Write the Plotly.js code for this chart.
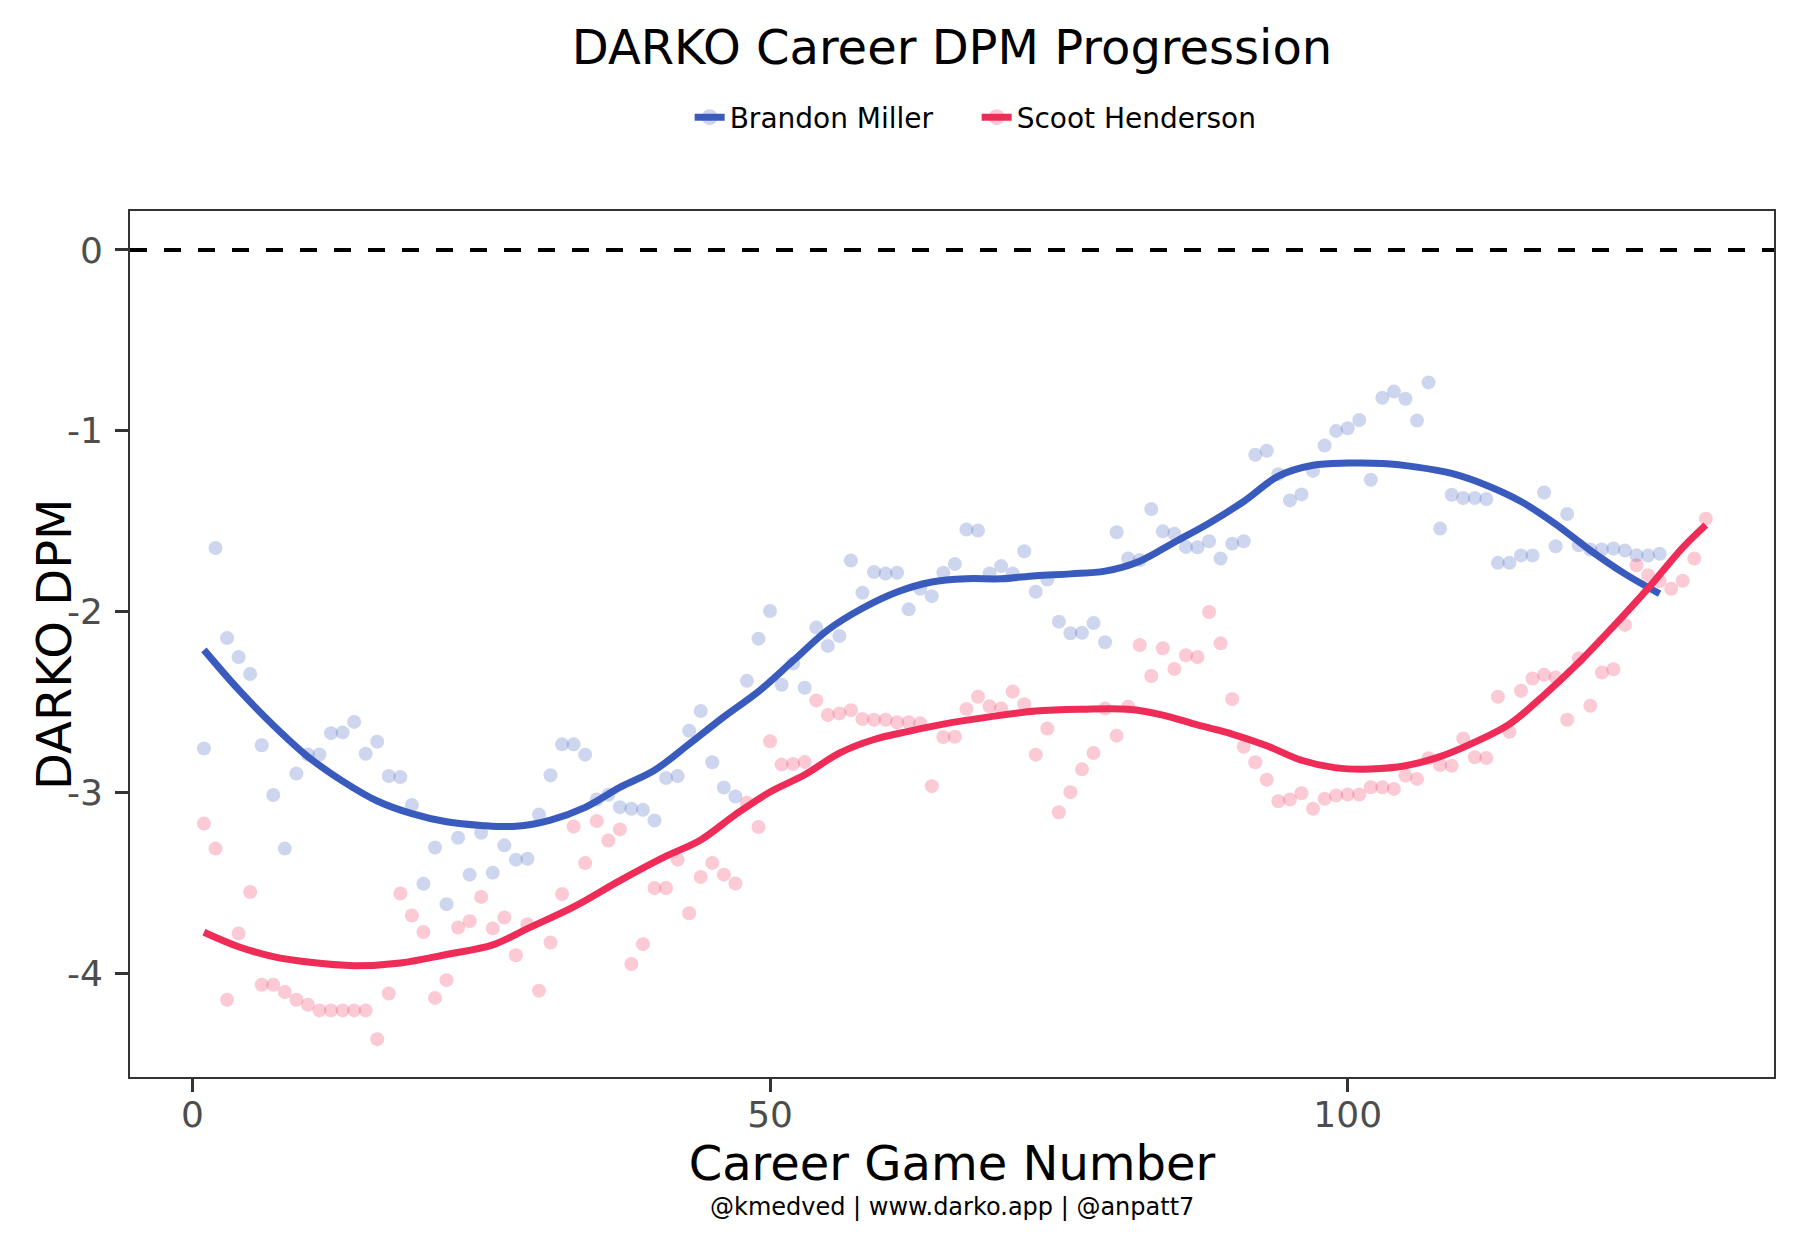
<!DOCTYPE html>
<html>
<head>
<meta charset="utf-8">
<script src="https://cdn.plot.ly/plotly-3.0.1.min.js"></script>
<style>
  html, body { margin: 0; padding: 0; background: #fff; }
  #chart { width: 1800px; height: 1240px; }
</style>
</head>
<body>
<div id="chart"></div>
<script>
// DARKO DPM per career game (game 1 .. n)
var millerDpm = [
  -2.755, -1.647, -2.145, -2.250, -2.343, -2.737, -3.012, -3.308, -2.893, -2.788,
  -2.788, -2.670, -2.666, -2.608, -2.784, -2.717, -2.907, -2.913, -3.067, -3.502,
  -3.302, -3.615, -3.248, -3.452, -3.221, -3.441, -3.290, -3.369, -3.364, -3.120,
  -2.903, -2.732, -2.732, -2.789, -3.037, -3.011, -3.079, -3.088, -3.094, -3.153,
  -2.918, -2.907, -2.657, -2.548, -2.831, -2.970, -3.020, -2.381, -2.148, -1.995,
  -2.403, -2.285, -2.419, -2.087, -2.188, -2.133, -1.716, -1.894, -1.780, -1.788,
  -1.784, -1.986, -1.872, -1.913, -1.784, -1.735, -1.545, -1.551, -1.788, -1.747,
  -1.788, -1.665, -1.889, -1.821, -2.054, -2.118, -2.115, -2.062, -2.168, -1.560,
  -1.705, -1.714, -1.432, -1.555, -1.568, -1.641, -1.643, -1.610, -1.705, -1.623,
  -1.610, -1.132, -1.110, -1.239, -1.384, -1.351, -1.221, -1.081, -1.000, -0.985,
  -0.940, -1.270, -0.817, -0.783, -0.822, -0.943, -0.732, -1.540, -1.353, -1.371,
  -1.371, -1.376, -1.729, -1.729, -1.688, -1.688, -1.340, -1.637, -1.459, -1.632,
  -1.655, -1.655, -1.650, -1.661, -1.687, -1.689, -1.679
];
var hendersonDpm = [
  -3.170, -3.308, -4.143, -3.777, -3.548, -4.060, -4.060, -4.100, -4.143, -4.171,
  -4.202, -4.202, -4.202, -4.202, -4.202, -4.361, -4.109, -3.556, -3.678, -3.769,
  -4.133, -4.035, -3.744, -3.709, -3.575, -3.749, -3.689, -3.897, -3.726, -4.093,
  -3.827, -3.559, -3.186, -3.388, -3.156, -3.263, -3.202, -3.946, -3.836, -3.526,
  -3.526, -3.369, -3.665, -3.465, -3.387, -3.452, -3.501, -3.055, -3.189, -2.715,
  -2.844, -2.840, -2.829, -2.489, -2.570, -2.561, -2.543, -2.592, -2.596, -2.596,
  -2.610, -2.610, -2.616, -2.963, -2.691, -2.690, -2.537, -2.469, -2.522, -2.534,
  -2.440, -2.510, -2.789, -2.644, -3.107, -2.996, -2.870, -2.780, -2.534, -2.684,
  -2.524, -2.183, -2.354, -2.201, -2.315, -2.240, -2.249, -2.001, -2.174, -2.482,
  -2.745, -2.831, -2.927, -3.046, -3.037, -3.002, -3.088, -3.033, -3.015, -3.009,
  -3.009, -2.969, -2.969, -2.978, -2.905, -2.923, -2.809, -2.846, -2.850, -2.699,
  -2.803, -2.807, -2.469, -2.662, -2.436, -2.368, -2.348, -2.363, -2.596, -2.258,
  -2.519, -2.335, -2.317, -2.072, -1.742, -1.797, -1.830, -1.872, -1.828, -1.705,
  -1.485
];

// smoothed trend lines
var millerTrendGame = [1, 4, 7, 10, 13, 16, 19, 22, 25, 28, 31, 34, 37, 40, 43, 46, 49, 52, 55, 58,
  61, 64, 67, 70, 73, 76, 79, 82, 85, 88, 91, 94, 97, 100, 103, 106, 109, 112, 115, 118, 121, 124, 127];
var millerTrend = [-2.21, -2.43, -2.626, -2.80, -2.935, -3.045, -3.115, -3.16, -3.18, -3.185, -3.15, -3.08,
  -2.97, -2.875, -2.73, -2.58, -2.44, -2.27, -2.10, -1.98, -1.89, -1.835, -1.817, -1.817, -1.80, -1.79,
  -1.775, -1.72, -1.615, -1.51, -1.39, -1.25, -1.19, -1.178, -1.18, -1.20, -1.235, -1.30, -1.39, -1.515,
  -1.66, -1.79, -1.90];
var hendersonTrendGame = [1, 4, 7, 10, 14, 18, 22, 26, 29, 33, 37, 41, 44, 47, 50, 53, 56, 59, 62, 65,
  69, 73, 77, 81, 84, 87, 90, 93, 96, 99, 102, 105, 108, 111, 114, 117, 120, 123, 126, 129, 131];
var hendersonTrend = [-3.77, -3.85, -3.905, -3.935, -3.955, -3.94, -3.893, -3.84, -3.75, -3.63, -3.485,
  -3.35, -3.26, -3.12, -2.995, -2.90, -2.78, -2.705, -2.66, -2.62, -2.58, -2.548, -2.538, -2.538, -2.57,
  -2.625, -2.675, -2.74, -2.82, -2.862, -2.868, -2.85, -2.80, -2.72, -2.62, -2.46, -2.28, -2.08, -1.87,
  -1.645, -1.52];

var xTickVals = [0, 50, 100];
var yTickVals = [0, -1, -2, -3, -4];
var yTickText = ["0", "-1", "-2", "-3", "-4"];

var blue = "#3a5bbe";
var red = "#ef2b58";
var blueFaint = "rgba(58,91,190,0.25)";
var redFaint = "rgba(239,43,88,0.25)";
var font = "DejaVu Sans, sans-serif";

function games(arr) {
  return arr.map(function (v, i) { return i + 1; });
}

var data = [
  { x: games(millerDpm), y: millerDpm, type: "scatter", mode: "markers", showlegend: false,
    marker: { size: 14, color: blueFaint } },
  { x: games(hendersonDpm), y: hendersonDpm, type: "scatter", mode: "markers", showlegend: false,
    marker: { size: 14, color: redFaint } },
  { x: millerTrendGame, y: millerTrend, type: "scatter", mode: "lines", showlegend: false,
    line: { color: blue, width: 7, shape: "spline", smoothing: 1 } },
  { x: hendersonTrendGame, y: hendersonTrend, type: "scatter", mode: "lines", showlegend: false,
    line: { color: red, width: 7, shape: "spline", smoothing: 1 } },
  // legend entries
  { x: [null], y: [null], type: "scatter", mode: "lines+markers", name: "Brandon Miller",
    line: { color: blue, width: 7 }, marker: { size: 16, color: blueFaint } },
  { x: [null], y: [null], type: "scatter", mode: "lines+markers", name: "Scoot Henderson",
    line: { color: red, width: 7 }, marker: { size: 16, color: redFaint } }
];

var layout = {
  width: 1800,
  height: 1240,
  margin: { l: 130, r: 26, t: 211, b: 163 },
  paper_bgcolor: "#fff",
  plot_bgcolor: "#fff",
  font: { family: font, color: "#000" },
  title: { text: "DARKO Career DPM Progression", font: { size: 48, color: "#000" },
    x: 0.5, xref: "paper", xanchor: "center", y: 0.962, yref: "container", yanchor: "middle" },
  legend: { orientation: "h", x: 0.515, xanchor: "center", y: 1.108, yanchor: "middle",
    font: { size: 28 }, itemwidth: 30, entrywidth: 242 },
  xaxis: {
    range: [-5.4, 136.9], showgrid: false, zeroline: false,
    showline: true, mirror: true, linecolor: "#333", linewidth: 2,
    ticks: "outside", ticklen: 13, tickwidth: 3, tickcolor: "#333",
    ticklabelstandoff: -8,
    tickvals: xTickVals, tickfont: { size: 36, color: "#4d4d4d" },
    title: { text: "Career Game Number", font: { size: 48, color: "#000" }, standoff: 8 }
  },
  yaxis: {
    range: [-4.57, 0.215], showgrid: false, zeroline: false,
    showline: true, mirror: true, linecolor: "#333", linewidth: 2,
    ticks: "outside", ticklen: 13, tickwidth: 3, tickcolor: "#333",
    ticklabelstandoff: 5,
    tickvals: yTickVals, ticktext: yTickText, tickfont: { size: 36, color: "#4d4d4d" }
  },
  shapes: [
    { type: "line", xref: "paper", x0: 0, x1: 1, yref: "y", y0: 0, y1: 0,
      line: { color: "#000", width: 4, dash: "17px,17px" } }
  ],
  annotations: [
    { text: "DARKO DPM", textangle: -90, xref: "paper", x: (54 - 130) / 1644, xanchor: "center",
      yref: "paper", y: 0.5, yanchor: "middle", showarrow: false,
      font: { size: 48, color: "#000" } },
    { text: "@kmedved | www.darko.app | @anpatt7", xref: "paper", x: 0.5, xanchor: "center",
      yref: "paper", y: (1077 - 1207) / 866, yanchor: "middle", showarrow: false,
      font: { size: 24, color: "#000" } }
  ]
};

Plotly.newPlot("chart", data, layout, { displayModeBar: false, staticPlot: true });
</script>
</body>
</html>
